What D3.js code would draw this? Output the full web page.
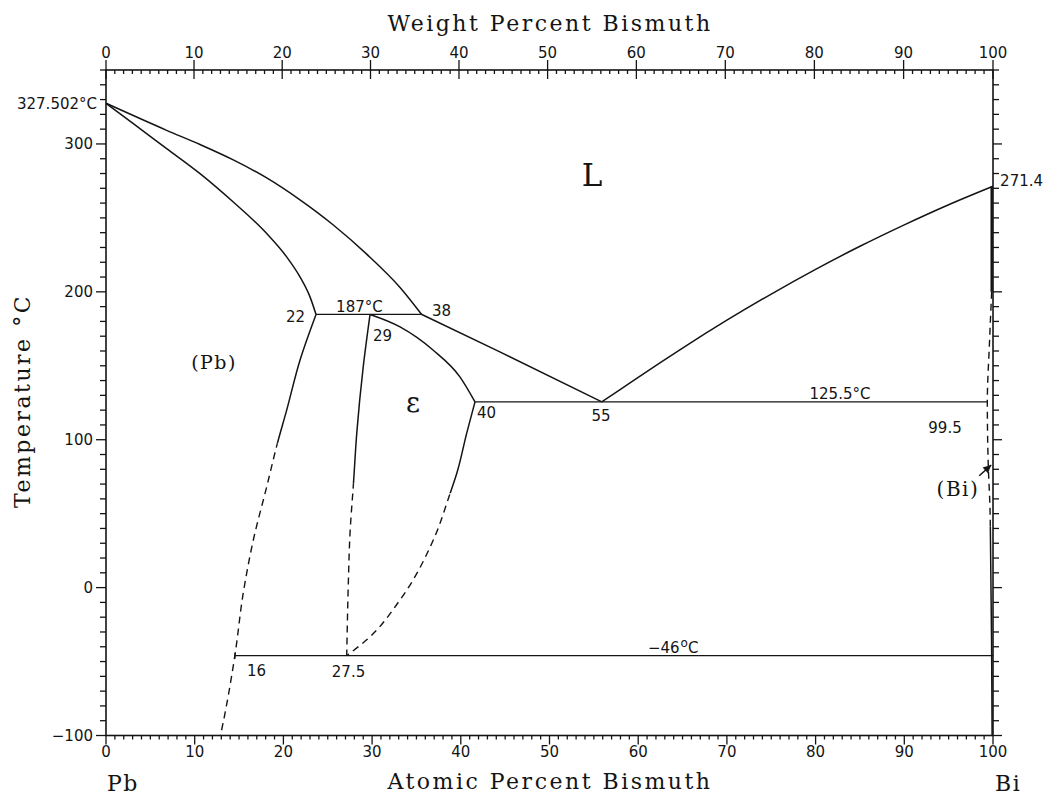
<!DOCTYPE html>
<html><head><meta charset="utf-8">
<script src="https://cdn.jsdelivr.net/npm/d3@7"></script>
<style>body{margin:0;background:#fff}</style>
</head><body>
<svg id="chart" width="1047" height="797"></svg>
<script>
// ---- Data (atomic % Bi, temperature °C) ----
const liquidusPb = [[0,327.5],[6.84,309.2],[10.60,299.6],[14.35,289.2],[18.12,277.0],[21.87,262.2],[25.63,245.2],[29.39,225.5],[33.15,203.0],[35.59,184.7]];
const solidusPb = [[0,327.5],[3.08,313.7],[6.84,296.8],[10.60,279.9],[14.35,260.7],[18.12,239.4],[20.37,223.6],[21.87,210.1],[23.0,196.6],[23.68,184.7]];
const solvusPb = [[23.68,184.7],[21.87,153.8],[20.37,120.0],[19.32,97.5],[18.12,68.2],[16.61,32.2],[15.47,-3.8],[14.54,-45.5],[13.04,-96.1],[12.9,-100]];
const solvusPbSplit = 97.5;   // solid above, dashed below
const epsLeft = [[29.77,184.7],[29.0,149.3],[28.27,104.3],[27.9,70.5],[27.51,36.7],[27.32,3.0],[27.14,-46]];
const epsLeftSplit = 70.5;
const epsUpper = [[29.77,184.7],[33.15,176.3],[36.9,160.5],[39.9,142.5],[41.6,125.6]];
const epsRight = [[41.6,125.6],[40.66,104.3],[39.55,77.3],[38.8,63.8],[36.9,32.2],[33.15,-8.3],[29.39,-35.3],[27.14,-46]];
const epsRightSplit = 63.8;
const liquidusMid = [[35.59,184.7],[44.4,159.4],[55.9,125.6]];
const liquidusBi = [[55.9,125.6],[58,134.0],[60,142.2],[65,162.0],[70,180.8],[75,198.5],[80,215.2],[85,230.8],[90,245.3],[95,258.9],[100,271.4]];
const biSolidTop = [[99.85,271.4],[99.85,200]];
const biSolvus = [[99.85,200],[99.6,165],[99.36,125.6],[99.47,82],[99.66,54],[99.7,41],[99.85,-46],[99.9,-100]];
const biSolvusSplit = 41;     // dashed above, solid below
const isotherms = [ // [from %, to %, T]
  [23.68,35.59,184.7],
  [41.6,99.36,125.6],
  [14.54,100,-46]
];
const arrowBi = [[98.45,75.6],[99.8,82.9]];
const xMajorTicks = [0,10,20,30,40,50,60,70,80,90,100];
const yMajorTicks = [-100,0,100,200,300];
const labels = [
  {t:"22", c:22.44, T:179.3, a:"end"},
  {t:"187°C", c:28.57, T:186.2, a:"middle"},
  {t:"38", c:36.75, T:183.5, a:"start"},
  {t:"29", c:30.1, T:166.6, a:"start"},
  {t:"40", c:41.83, T:114.6, a:"start"},
  {t:"55", c:55.8, T:112.6, a:"middle"},
  {t:"125.5°C", c:82.75, T:127.5, a:"middle"},
  {t:"99.5", c:94.59, T:104.5, a:"middle"},
  {t:"271.4", c:100.8, T:271.3, a:"start"},
  {t:"16", c:15.9, T:-59.6, a:"start"},
  {t:"27.5", c:27.34, T:-60.3, a:"middle"}
];
const phaseLabels = [
  {t:"L", c:54.8, T:271.3, size:31},
  {t:"(Pb)", c:12.18, T:147.7, size:19},
  {t:"(Bi)", c:96.05, T:61.9, size:20},
  {t:"ε", c:34.6, T:118.6, size:27}
];

// ---- Scales ----
const svg = d3.select("#chart");
const x = d3.scaleLinear().domain([0,100]).range([106,993]);
const y = d3.scaleLinear().domain([-100,350]).range([735.5,70]);
// weight % -> atomic % (Pb 207.2, Bi 208.98)
const wtToAt = w => 100*(w/208.98)/((w/208.98)+((100-w)/207.2));

const ink = "#141414";
const sans = "'DejaVu Sans', sans-serif";
const serif = "'DejaVu Serif', serif";

// ---- Axes ----
const yMinor = d3.range(-100,351,10);
const xMinor = d3.range(0,101,1);
svg.append("rect").attr("x",x(0)).attr("y",y(350)).attr("width",x(100)-x(0)).attr("height",y(-100)-y(350))
  .attr("fill","none").attr("stroke",ink).attr("stroke-width",1.6);

const tk = svg.append("g").attr("stroke",ink).attr("stroke-width",1.3);
yMinor.forEach(v=>{
  const maj = yMajorTicks.includes(v);
  tk.append("line").attr("x1",x(0)).attr("x2",x(0)-(maj?10:6)).attr("y1",y(v)).attr("y2",y(v));
  tk.append("line").attr("x1",x(100)).attr("x2",x(100)+(maj?9:6)).attr("y1",y(v)).attr("y2",y(v));
});
xMinor.forEach(v=>{
  const maj = v%10===0;
  tk.append("line").attr("x1",x(v)).attr("x2",x(v)).attr("y1",y(-100)).attr("y2",y(-100)+(maj?9:4));
  const xt = x(wtToAt(v));
  if(maj) tk.append("line").attr("x1",xt).attr("x2",xt).attr("y1",y(350)-10).attr("y2",y(350)+9);
  else tk.append("line").attr("x1",xt).attr("x2",xt).attr("y1",y(350)).attr("y2",y(350)+4);
});
const tl = svg.append("g").attr("font-family",sans).attr("font-size",15).attr("fill",ink);
yMajorTicks.forEach(v=>{
  tl.append("text").attr("x",x(0)-13).attr("y",y(v)).attr("dy","0.36em").attr("text-anchor","end")
    .text(v<0?"\u2212"+Math.abs(v):v);
});
xMajorTicks.forEach(v=>{
  tl.append("text").attr("x",x(v)).attr("y",757).attr("text-anchor","middle").text(v);
  tl.append("text").attr("x",x(wtToAt(v))).attr("y",58).attr("text-anchor","middle").text(v);
});
tl.append("text").attr("x",x(0)-9).attr("y",y(327.502)).attr("dy","0.36em").attr("text-anchor","end").text("327.502°C");

// axis titles
const tt = svg.append("g").attr("font-family",serif).attr("font-size",22).attr("fill",ink).attr("letter-spacing","2.5px");
tt.append("text").attr("x",550).attr("y",30.5).attr("text-anchor","middle").text("Weight Percent Bismuth");
tt.append("text").attr("x",550).attr("y",789).attr("text-anchor","middle").text("Atomic Percent Bismuth");
tt.append("text").attr("transform","translate(30,401) rotate(-90)").attr("text-anchor","middle").text("Temperature °C");
tt.append("text").attr("x",107).attr("y",791).attr("letter-spacing","1.5px").text("Pb");
tt.append("text").attr("x",995).attr("y",791).attr("letter-spacing","1.5px").text("Bi");

// ---- Clip regions for solid / dashed parts ----
const defs = svg.append("defs");
function clipAbove(id, T){ defs.append("clipPath").attr("id",id).append("rect").attr("x",0).attr("y",0).attr("width",1047).attr("height",y(T)); }
function clipBelow(id, T){ defs.append("clipPath").attr("id",id).append("rect").attr("x",0).attr("y",y(T)).attr("width",1047).attr("height",797-y(T)); }

// ---- Phase boundaries ----
const lineX = d3.line().x(d=>x(d[0])).y(d=>y(d[1])).curve(d3.curveMonotoneX);
const lineY = d3.line().x(d=>x(d[0])).y(d=>y(d[1])).curve(d3.curveMonotoneY);
const lineL = d3.line().x(d=>x(d[0])).y(d=>y(d[1]));
const g = svg.append("g").attr("fill","none").attr("stroke",ink);
[liquidusPb, solidusPb, epsUpper, liquidusMid, liquidusBi].forEach(s=>
  g.append("path").attr("d",lineX(s)).attr("stroke-width",1.5));

function splitCurve(data, T, id, solidAbove){
  clipAbove(id+"a", T); clipBelow(id+"b", T);
  const d = lineY(data);
  g.append("path").attr("d",d).attr("stroke-width",1.5).attr("clip-path",`url(#${id}${solidAbove?"a":"b"})`);
  g.append("path").attr("d",d).attr("stroke-width",1.4).attr("stroke-dasharray","7,5").attr("clip-path",`url(#${id}${solidAbove?"b":"a"})`);
}
splitCurve(solvusPb, solvusPbSplit, "sp", true);
splitCurve(epsLeft, epsLeftSplit, "el", true);
splitCurve(epsRight, epsRightSplit, "er", true);
splitCurve(biSolvus, biSolvusSplit, "bs", false);
g.append("path").attr("d",lineL(biSolidTop)).attr("stroke-width",2.4);
isotherms.forEach(d=>{
  g.append("line").attr("x1",x(d[0])).attr("x2",x(d[1])).attr("y1",y(d[2])).attr("y2",y(d[2])).attr("stroke-width",1.2);
});
g.append("line").attr("x1",x(isotherms[2][0])).attr("x2",x(isotherms[2][0]))
  .attr("y1",y(isotherms[2][2])-3).attr("y2",y(isotherms[2][2])+3).attr("stroke-width",1.2);

// arrow to (Bi)
defs.append("marker").attr("id","ah").attr("viewBox","0 0 10 10").attr("refX",10).attr("refY",5)
  .attr("markerWidth",14).attr("markerHeight",8).attr("markerUnits","userSpaceOnUse").attr("orient","auto")
  .append("path").attr("d","M0,0L10,5L0,10z").attr("fill",ink);
svg.append("line").attr("x1",x(arrowBi[0][0])).attr("y1",y(arrowBi[0][1])).attr("x2",x(arrowBi[1][0])).attr("y2",y(arrowBi[1][1]))
  .attr("stroke",ink).attr("stroke-width",1.5).attr("marker-end","url(#ah)");

// ---- Labels ----
const lg = svg.append("g").attr("font-family",sans).attr("font-size",15).attr("fill",ink);
labels.forEach(l=>lg.append("text").attr("x",x(l.c)).attr("y",y(l.T)).attr("text-anchor",l.a).text(l.t));
const m46 = lg.append("text").attr("x",x(61.1)).attr("y",y(-44.4));
m46.append("tspan").text("\u221246");
m46.append("tspan").attr("font-size",12).attr("dy",-6).attr("dx",1).text("o");
m46.append("tspan").attr("dy",6).text("C");

const pg = svg.append("g").attr("font-family",serif).attr("fill",ink).attr("text-anchor","middle");
phaseLabels.forEach(l=>pg.append("text").attr("x",x(l.c)).attr("y",y(l.T)).attr("font-size",l.size)
  .attr("letter-spacing", l.t.length>1?"1.5px":"0px").text(l.t));
</script>
</body></html>
